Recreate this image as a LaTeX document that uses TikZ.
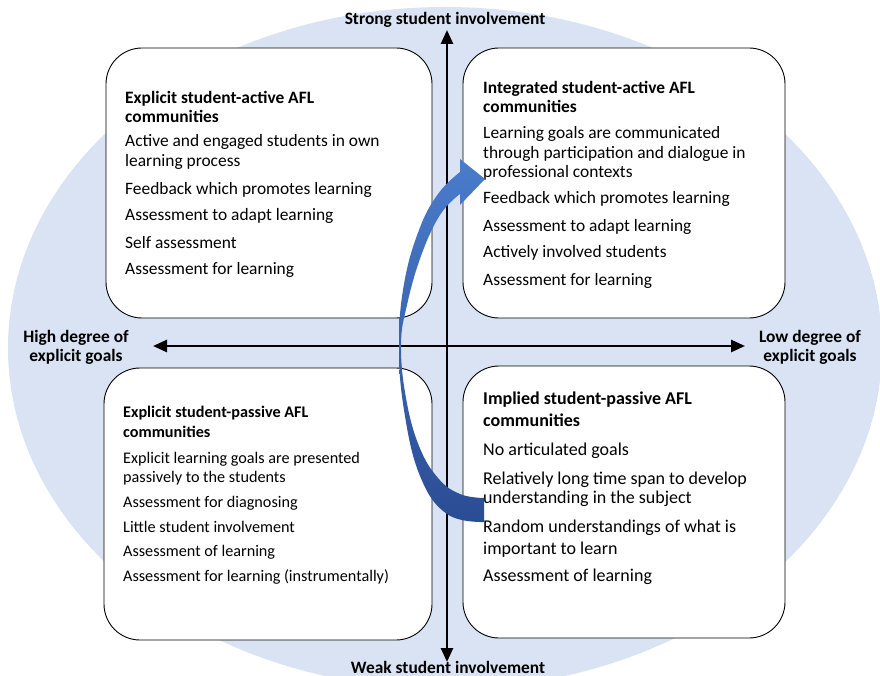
\documentclass[tikz,border=0pt]{standalone}
\usepackage{fontspec}
\setmainfont{Carlito}
\usetikzlibrary{arrows.meta}
\definecolor{ellblue}{HTML}{DAE3F3}
\definecolor{arrlight}{HTML}{4A7CCB}
\definecolor{arrdark}{HTML}{2B4C94}
\begin{document}
\begin{tikzpicture}[x=1pt,y=-1pt,
  quad/.style={draw=black, line width=0.9pt, fill=white, rounded corners=36pt, inner sep=0pt},
  body/.style={anchor=north west, inner sep=0pt, align=left, text=black},
  axlabel/.style={font=\bfseries\fontsize{17.4}{19}\selectfont, inner sep=0pt, align=center},
  axisline/.style={line width=2.6pt, {Triangle[length=14pt,width=12pt]}-{Triangle[length=14pt,width=12pt]}}]
\useasboundingbox (0,0) rectangle (880,676);
% background ellipse
\fill[ellblue] (445,348) ellipse [x radius=437pt, y radius=341pt];
% quadrant boxes
\node[quad, minimum width=326pt, minimum height=270pt] (tl) at (269,183) {};
\node[quad, minimum width=322pt, minimum height=270pt] (tr) at (624,183) {};
\node[quad, minimum width=328pt, minimum height=272pt] (bl) at (268,504) {};
\node[quad, minimum width=322pt, minimum height=272pt] (br) at (624,502) {};
% axes
\coordinate (up) at (447,30);
\coordinate (down) at (447,662);
\coordinate (left) at (153,346);
\coordinate (right) at (745,346);
\draw[axisline] (down) -- (up);
\draw[axisline] (left) -- (right);
% axis labels
\node[axlabel] (strong) at (445,20) {Strong student involvement};
\node[axlabel] (weak) at (448,667) {Weak student involvement};
\node[axlabel] (high) at (76,347) {High degree of\\explicit goals};
\node[axlabel] (low) at (810,347) {Low degree of\\explicit goals};
% box texts
\node[body, font=\fontsize{17.4}{19.5}\selectfont] (tltext) at (125,91)
 {\textbf{Explicit student-active AFL}\\\textbf{communities}\\[4.5pt]
  Active and engaged students in own\\learning process\\[8.5pt]
  Feedback which promotes learning\\[6.5pt]
  Assessment to adapt learning\\[8.5pt]
  Self assessment\\[6.5pt]
  Assessment for learning};
\node[body, font=\fontsize{17.4}{19.5}\selectfont] (trtext) at (483,81)
 {\textbf{Integrated student-active AFL}\\\textbf{communities}\\[6.5pt]
  Learning goals are communicated\\through participation and dialogue in\\professional contexts\\[6.5pt]
  Feedback which promotes learning\\[8.5pt]
  Assessment to adapt learning\\[6.5pt]
  Actively involved students\\[8.5pt]
  Assessment for learning};
\node[body, font=\fontsize{16.2}{18.5}\selectfont] (bltext) at (123,406)
 {\textbf{Explicit student-passive AFL}\\[1.5pt]\textbf{communities}\\[7.5pt]
  Explicit learning goals are presented\\passively to the students\\[6.5pt]
  Assessment for diagnosing\\[6.5pt]
  Little student involvement\\[5.5pt]
  Assessment of learning\\[6.5pt]
  Assessment for learning (instrumentally)};
\node[body, font=\fontsize{18}{19.5}\selectfont] (brtext) at (483,391.5)
 {\textbf{Implied student-passive AFL}\\[2.5pt]\textbf{communities}\\[9.5pt]
  No articulated goals\\[9.5pt]
  Relatively long time span to develop\\understanding in the subject\\[9.5pt]
  Random understandings of what is\\[2.5pt]important to learn\\[7.5pt]
  Assessment of learning};
% curved block arrow
\shade[top color=arrlight, bottom color=arrdark]
  plot[smooth, tension=0.7] coordinates {(484,522) (447,514) (420,476) (404,410) (399,345) (404,284) (419,230) (438,194) (460,172)}
  -- (460,159) -- (485,179) -- (460,205)
  -- plot[smooth, tension=0.7] coordinates {(460,194) (440,215) (421,256) (407,305) (401,345) (406,398) (419,446) (438,478) (460,494) (484,498)}
  -- cycle;
\end{tikzpicture}
\end{document}
